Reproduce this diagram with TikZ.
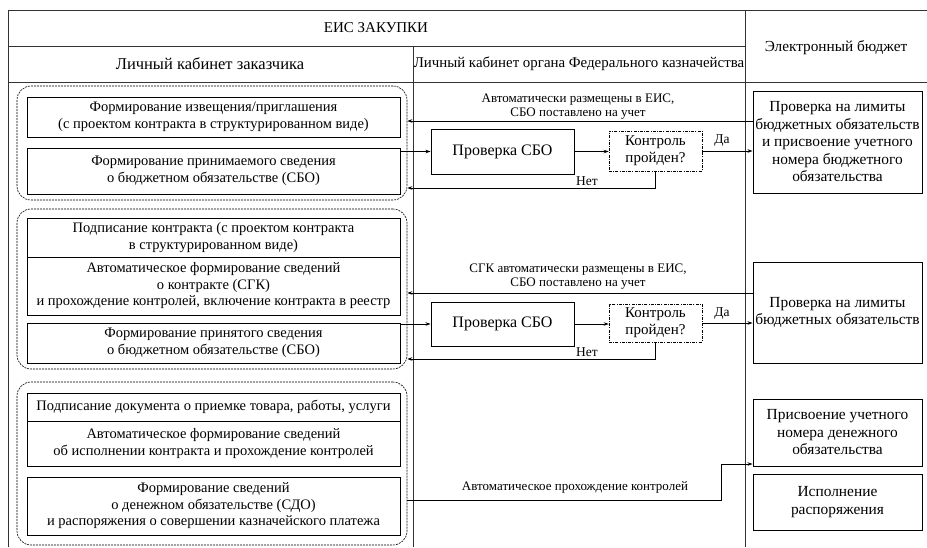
\documentclass[tikz,border=0pt]{standalone}
\usepackage{fontspec}
\setmainfont{Liberation Serif}
\usetikzlibrary{arrows.meta}
\begin{document}
\begin{tikzpicture}[x=1pt,y=-1pt,
  frame/.style={line width=0.8pt,draw=black!80},
  box/.style={draw,line width=0.9pt,inner sep=0pt,align=center,font=\fontsize{14.5}{16.5}\selectfont},
  rbox/.style={draw,line width=0.9pt,inner sep=0pt,align=center,font=\fontsize{15.4}{17.5}\selectfont},
  grp/.style={draw,line width=0.6pt,dash pattern=on 2pt off 1pt,rounded corners=14pt},
  ctl/.style={draw,line width=0.6pt,dash pattern=on 3pt off 1.2pt on 1pt off 1.2pt,inner sep=0pt,align=center,font=\fontsize{15}{17}\selectfont},
  hdr/.style={inner sep=0pt},
  lbl/.style={font=\fontsize{13}{14}\selectfont,inner sep=0pt,align=center},
  arr/.style={line width=0.8pt,-{Stealth[length=5pt,width=3.5pt]}},
  ln/.style={line width=0.8pt}]
\useasboundingbox (0,0) rectangle (927,547);
% frame
\draw[frame] (8,547) -- (8,10) -- (927,10);
\draw[frame] (8,46) -- (745,46);
\draw[frame] (8,82) -- (927,82);
\draw[frame] (413,46) -- (413,547);
\draw[frame] (745,10) -- (745,547);
% headers
\node[hdr,font=\fontsize{15}{17}\selectfont] (hEIS) at (376,28) {ЕИС ЗАКУПКИ};
\node[hdr,font=\fontsize{15.3}{17}\selectfont] (hEB) at (836,48) {Электронный бюджет};
\node[hdr,font=\fontsize{16.5}{18}\selectfont] (hLK) at (210,64) {Личный кабинет заказчика};
\node[hdr,font=\fontsize{14.9}{17}\selectfont] (hFK) at (579,64) {Личный кабинет органа Федерального казначейства};
% group 1
\node[grp,minimum width=390,minimum height=114] (g1) at (212,143) {};
\node[box,minimum width=373,minimum height=40] (a1) at (213.5,117) {Формирование извещения/приглашения\\(с проектом контракта в структурированном виде)};
\node[box,minimum width=373,minimum height=46] (a2) at (213.5,171) {Формирование принимаемого сведения\\о бюджетном обязательстве (СБО)};
\node[box,font=\fontsize{16}{18}\selectfont,minimum width=143,minimum height=45] (b1) at (502.5,151.5) {Проверка СБО};
\node[ctl,minimum width=93,minimum height=40] (c1) at (655.5,151) {Контроль\\пройден?};
\node[rbox,minimum width=169,minimum height=102] (r1) at (837.5,142) {Проверка на лимиты\\бюджетных обязательств\\и присвоение учетного\\номера бюджетного\\обязательства};
\coordinate (k1) at (0,121);
\coordinate (k2) at (0,188);
\draw[arr] (r1.west |- k1) -- (g1.east |- k1);
\node[lbl] (t1) at (578,106.5) {Автоматически размещены в ЕИС,\\СБО поставлено на учет};
\draw[arr] (a2.east |- b1.west) -- (b1.west);
\draw[arr] (b1.east) -- (c1.west |- b1.east);
\draw[arr] (c1.east) -- (r1.west |- c1.east);
\node[lbl,font=\fontsize{13.5}{15}\selectfont] (da1) at (722,141) {Да};
\draw[arr] (c1.south) -- (c1.south |- k2) -- (g1.east |- k2);
\node[lbl,font=\fontsize{13.5}{15}\selectfont] (n1) at (587,181) {Нет};
% group 2
\node[grp,minimum width=390,minimum height=160] (g2) at (212,289) {};
\node[box,minimum width=373,minimum height=39] (d1) at (213.5,237.5) {Подписание контракта (с проектом контракта\\в структурированном виде)};
\node[box,minimum width=373,minimum height=58] (d2) at (213.5,286) {Автоматическое формирование сведений\\о контракте (СГК)\\и прохождение контролей, включение контракта в реестр};
\node[box,minimum width=373,minimum height=40] (d3) at (213.5,343) {Формирование принятого сведения\\о бюджетном обязательстве (СБО)};
\node[box,font=\fontsize{16}{18}\selectfont,minimum width=143,minimum height=44] (b2) at (502.5,324) {Проверка СБО};
\node[ctl,minimum width=93,minimum height=38] (c2) at (655.5,323) {Контроль\\пройден?};
\node[rbox,minimum width=169,minimum height=101] (r2) at (837.5,312.5) {Проверка на лимиты\\бюджетных обязательств};
\coordinate (k5) at (0,293);
\coordinate (k6) at (0,359);
\draw[arr] (r2.west |- k5) -- (g2.east |- k5);
\node[lbl] (t2) at (578,276.5) {СГК автоматически размещены в ЕИС,\\СБО поставлено на учет};
\draw[arr] (d3.east |- b2.west) -- (b2.west);
\draw[arr] (b2.east) -- (c2.west |- b2.east);
\draw[arr] (c2.east) -- (r2.west |- c2.east);
\node[lbl,font=\fontsize{13.5}{15}\selectfont] (da2) at (722,314) {Да};
\draw[arr] (c2.south) -- (c2.south |- k6) -- (g2.east |- k6);
\node[lbl,font=\fontsize{13.5}{15}\selectfont] (n2) at (587,352) {Нет};
% group 3
\node[grp,minimum width=390,minimum height=163] (g3) at (212,463.5) {};
\node[box,minimum width=373,minimum height=28] (e1) at (213.5,407) {Подписание документа о приемке товара, работы, услуги};
\node[box,minimum width=373,minimum height=45] (e2) at (213.5,443.5) {Автоматическое формирование сведений\\об исполнении контракта и прохождение контролей};
\node[box,minimum width=373,minimum height=58] (e3) at (213.5,506) {Формирование сведений\\о денежном обязательстве (СДО)\\и распоряжения о совершении казначейского платежа};
\node[rbox,minimum width=169,minimum height=67] (r3) at (837.5,432.5) {Присвоение учетного\\номера денежного\\обязательства};
\node[rbox,minimum width=169,minimum height=56] (r4) at (837.5,502) {Исполнение\\распоряжения};
\coordinate (k3) at (721,500);
\coordinate (k4) at (721,464);
\draw[arr] (g3.east |- k3) -- (k3) -- (k4) -- (r3.west |- k4);
\node[lbl] (t3) at (575,487) {Автоматическое прохождение контролей};
\end{tikzpicture}
\end{document}
